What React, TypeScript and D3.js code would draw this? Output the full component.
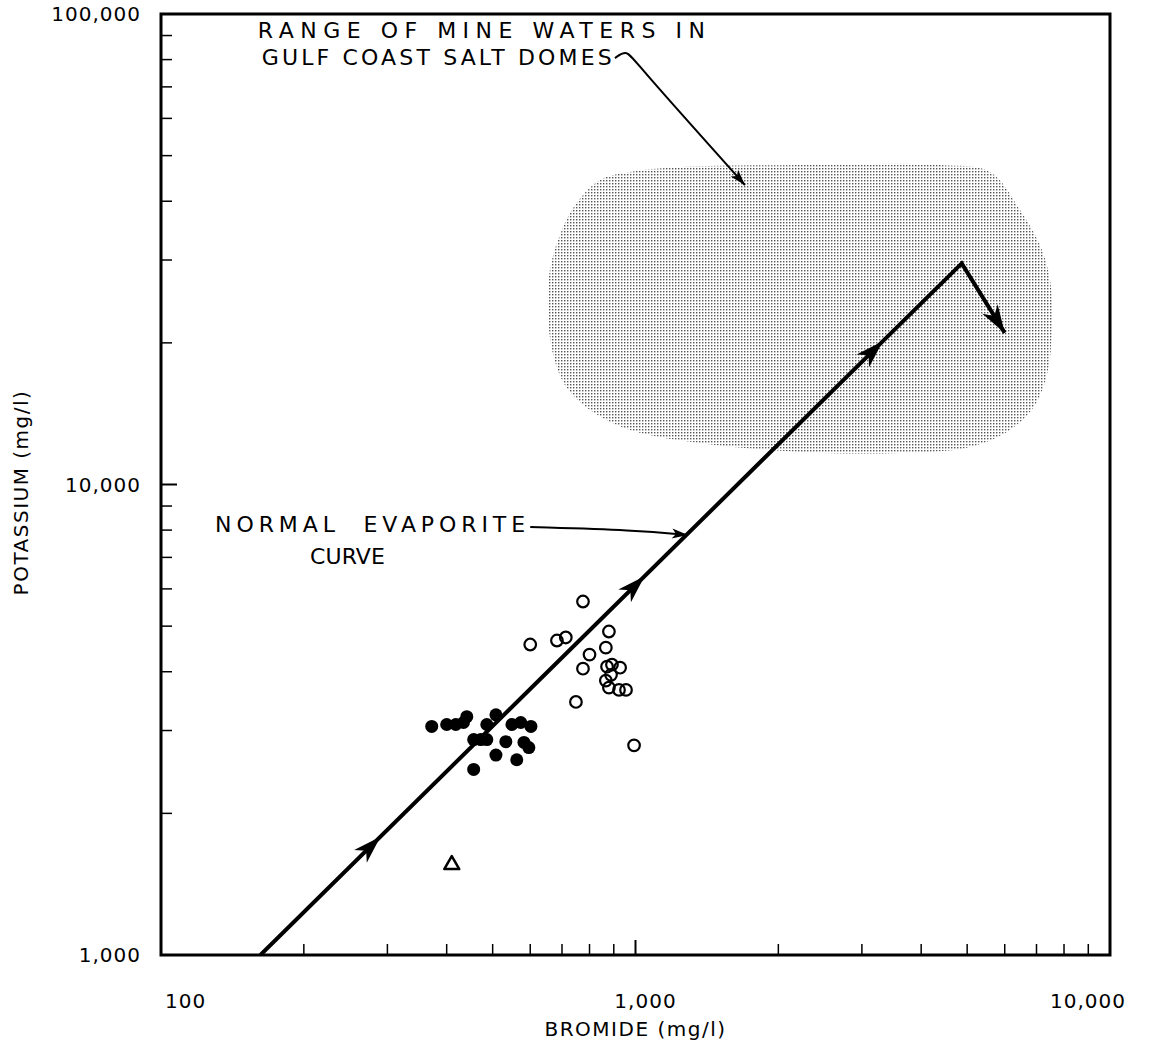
import React from "react";
import * as d3 from "d3";

const W = 1157;
const H = 1040;
const margin = { top: 14, right: 47, bottom: 85, left: 161 };

// Axis ticks
const xMajorTicks = [100, 1000, 10000];
const xTickLabels = ["100", "1,000", "10,000"];
const yMajorTicks = [1000, 10000, 100000];
const yTickLabels = ["1,000", "10,000", "100,000"];

// Data: [bromide mg/l, potassium mg/l]
const openCircles: [number, number][] = [
  [775, 5640], [600, 4570], [683, 4660], [713, 4730], [879, 4870],
  [866, 4500], [800, 4350], [775, 4060], [871, 4100], [892, 4140],
  [928, 4080], [888, 3940], [866, 3830], [879, 3700], [923, 3660],
  [955, 3660], [749, 3450], [993, 2790],
];
const filledCircles: [number, number][] = [
  [372, 3060], [400, 3090], [418, 3090], [434, 3120], [441, 3210],
  [486, 3090], [508, 3240], [456, 2870], [472, 2870], [486, 2870],
  [533, 2840], [549, 3090], [573, 3120], [602, 3060], [582, 2830],
  [596, 2760], [508, 2660], [562, 2600], [456, 2480],
];
const triangles: [number, number][] = [[410, 1560]];

// Normal evaporite curve
const evaporiteCurve: [number, number][] = [[162, 1000], [4870, 29500], [6000, 21000]];
const risingArrowTips = [290, 1045, 3320];

// Range of mine waters in Gulf Coast salt domes (outline)
const mineWaterRange: [number, number][] = [
  [842, 44380], [746, 39270], [693, 33910], [660, 28570], [654, 23490],
  [667, 19320], [710, 16270], [802, 14400], [974, 13060], [1367, 12250],
  [2222, 11730], [3610, 11670], [5070, 12020], [6154, 13060], [6950, 14760],
  [7402, 17510], [7547, 22370], [7475, 27200], [7120, 32280], [6462, 38320],
  [5586, 46150], [4383, 47760], [2222, 47760], [1241, 47290], [974, 46150],
];

// Annotations (data coordinates)
const rangeLabelLines = ["RANGE OF MINE WATERS IN", "GULF COAST SALT DOMES"];
const rangeLabelAnchors: [number, number][] = [[160, 88900], [163, 77900]];
const rangeArrow: [number, number][] = [[905, 80600], [960, 84000], [1000, 78800], [1701, 43300]];
const evapLabelLines = ["NORMAL  EVAPORITE", "CURVE"];
const evapLabelAnchors: [number, number][] = [[130, 7930], [206, 6776]];
const evapArrow: [number, number][] = [[600, 8120], [1000, 8000], [1290, 7810]];

const xTitle = "BROMIDE (mg/l)";
const yTitle = "POTASSIUM (mg/l)";

const FONT = "'DejaVu Sans', 'Liberation Sans', sans-serif";

export default function App() {
  const x = d3.scaleLog().domain([100, 10000]).range([margin.left, W - margin.right]);
  const y = d3.scaleLog().domain([1000, 100000]).range([H - margin.bottom, margin.top]);
  const x0 = margin.left, x1 = W - margin.right, y0 = H - margin.bottom, y1 = margin.top;

  const minorX: number[] = [];
  const minorY: number[] = [];
  for (const d of [100, 1000]) for (let k = 2; k <= 9; k++) minorX.push(d * k);
  for (const d of [1000, 10000]) for (let k = 2; k <= 9; k++) minorY.push(d * k);

  const lineGen = d3.line<[number, number]>().x((d) => x(d[0])).y((d) => y(d[1]));
  const blob = d3
    .line<[number, number]>()
    .x((d) => x(d[0]))
    .y((d) => y(d[1]))
    .curve(d3.curveCatmullRomClosed.alpha(0.5));
  const smooth = d3
    .line<[number, number]>()
    .x((d) => x(d[0]))
    .y((d) => y(d[1]))
    .curve(d3.curveBasis);

  const [a, b, c] = evaporiteCurve;
  const kOnRising = (br: number) => {
    const t = (Math.log(br) - Math.log(a[0])) / (Math.log(b[0]) - Math.log(a[0]));
    return Math.exp(Math.log(a[1]) + t * (Math.log(b[1]) - Math.log(a[1])));
  };
  const angRising = Math.atan2(y(b[1]) - y(a[1]), x(b[0]) - x(a[0])) * 180 / Math.PI;
  const angFalling = Math.atan2(y(c[1]) - y(b[1]), x(c[0]) - x(b[0])) * 180 / Math.PI;

  const arrowHead = "M0,0 L-28,-9 L-20,0 L-28,9 Z";
  const smallHead = "M0,0 L-16,-5 L-12,0 L-16,5 Z";

  const evapEnd = evapArrow[evapArrow.length - 1];
  const evapPrev = evapArrow[evapArrow.length - 2];
  const evapAng = Math.atan2(y(evapEnd[1]) - y(evapPrev[1]), x(evapEnd[0]) - x(evapPrev[0])) * 180 / Math.PI;
  const rEnd = rangeArrow[rangeArrow.length - 1];
  const rPrev = rangeArrow[rangeArrow.length - 2];
  const rAng = Math.atan2(y(rEnd[1]) - y(rPrev[1]), x(rEnd[0]) - x(rPrev[0])) * 180 / Math.PI;

  const triPath = (cx: number, cy: number, s: number) => {
    const h = s * Math.sqrt(3) / 2;
    return `M${cx},${cy - h * 0.62} L${cx + s / 2},${cy + h * 0.38} L${cx - s / 2},${cy + h * 0.38} Z`;
  };

  return (
    <svg
      width={W}
      height={H}
      style={{ position: "absolute", left: 0, top: 0, background: "#fff" }}
      fontFamily={FONT}
    >
      <defs>
        <pattern id="dots" width={3} height={3} patternUnits="userSpaceOnUse">
          <rect width={3} height={3} fill="#fff" />
          <rect x={0} y={0} width={1.4} height={1.4} fill="#555" />
        </pattern>
        <clipPath id="plot">
          <rect x={x0} y={y1} width={x1 - x0} height={y0 - y1} />
        </clipPath>
      </defs>

      {/* shaded range */}
      <path d={blob(mineWaterRange) || ""} fill="url(#dots)" stroke="none" />

      {/* frame */}
      <rect x={x0} y={y1} width={x1 - x0} height={y0 - y1} fill="none" stroke="#000" strokeWidth={3} />

      {/* x ticks */}
      {minorX.map((v) => (
        <line key={"mx" + v} x1={x(v)} x2={x(v)} y1={y0} y2={y0 - 11} stroke="#000" strokeWidth={1.5} />
      ))}
      {xMajorTicks.slice(1, -1).map((v) => (
        <line key={"Mx" + v} x1={x(v)} x2={x(v)} y1={y0} y2={y0 - 15} stroke="#000" strokeWidth={2} />
      ))}
      {/* y ticks */}
      {minorY.map((v) => (
        <line key={"my" + v} x1={x0} x2={x0 + 11} y1={y(v)} y2={y(v)} stroke="#000" strokeWidth={1.5} />
      ))}
      {yMajorTicks.slice(1, -1).map((v) => (
        <line key={"My" + v} x1={x0} x2={x0 + 16} y1={y(v)} y2={y(v)} stroke="#000" strokeWidth={2} />
      ))}

      {/* tick labels */}
      {xMajorTicks.map((v, i) => (
        <text
          key={"xl" + v}
          x={x(v)}
          y={y0 + 53}
          fontSize={20}
          letterSpacing={1}
          textAnchor={i === 0 ? "start" : i === xMajorTicks.length - 1 ? "end" : "middle"}
          dx={i === 0 ? 4 : i === xMajorTicks.length - 1 ? 16 : 10}
        >
          {xTickLabels[i]}
        </text>
      ))}
      {yMajorTicks.map((v, i) => (
        <text key={"yl" + v} x={x0 - 20} y={y(v)} dy="0.36em" fontSize={20} letterSpacing={1} textAnchor="end">
          {yTickLabels[i]}
        </text>
      ))}

      {/* axis titles */}
      <text x={(x0 + x1) / 2} y={H - 4} fontSize={20} letterSpacing={1.5} textAnchor="middle">
        {xTitle}
      </text>
      <text
        transform={`translate(28, ${(y0 + y1) / 2 + 8}) rotate(-90)`}
        fontSize={20}
        letterSpacing={1.5}
        textAnchor="middle"
      >
        {yTitle}
      </text>

      {/* evaporite curve */}
      <g clipPath="url(#plot)">
        <path d={lineGen(evaporiteCurve) || ""} fill="none" stroke="#000" strokeWidth={4} strokeLinejoin="miter" />
      </g>
      {risingArrowTips.map((br) => (
        <path
          key={"ah" + br}
          d={arrowHead}
          transform={`translate(${x(br)},${y(kOnRising(br))}) rotate(${angRising})`}
          fill="#000"
        />
      ))}
      <path
        d={arrowHead}
        transform={`translate(${x(c[0])},${y(c[1])}) rotate(${angFalling})`}
        fill="#000"
      />

      {/* data points */}
      {openCircles.map((d, i) => (
        <circle key={"o" + i} cx={x(d[0])} cy={y(d[1])} r={5.8} fill="none" stroke="#000" strokeWidth={2.2} />
      ))}
      {filledCircles.map((d, i) => (
        <circle key={"f" + i} cx={x(d[0])} cy={y(d[1])} r={6.5} fill="#000" />
      ))}
      {triangles.map((d, i) => (
        <path key={"t" + i} d={triPath(x(d[0]), y(d[1]), 15)} fill="none" stroke="#000" strokeWidth={2.5} strokeLinejoin="round" />
      ))}

      {/* annotations */}
      {rangeLabelLines.map((t, i) => (
        <text
          key={"rl" + i}
          x={x(rangeLabelAnchors[i][0])}
          y={y(rangeLabelAnchors[i][1])}
          fontSize={22}
          textLength={i === 0 ? 447 : 350}
          lengthAdjust="spacing"
        >
          {t}
        </text>
      ))}
      <path d={smooth(rangeArrow) || ""} fill="none" stroke="#000" strokeWidth={2} />
      <path d={smallHead} transform={`translate(${x(rEnd[0])},${y(rEnd[1])}) rotate(${rAng})`} fill="#000" />

      {evapLabelLines.map((t, i) => (
        <text
          key={"el" + i}
          x={x(evapLabelAnchors[i][0])}
          y={y(evapLabelAnchors[i][1])}
          fontSize={22}
          textLength={i === 0 ? 310 : 75}
          lengthAdjust="spacing"
          style={{ whiteSpace: "pre" }}
        >
          {t}
        </text>
      ))}
      <path d={smooth(evapArrow) || ""} fill="none" stroke="#000" strokeWidth={2} />
      <path d={smallHead} transform={`translate(${x(evapEnd[0])},${y(evapEnd[1])}) rotate(${evapAng})`} fill="#000" />
    </svg>
  );
}
